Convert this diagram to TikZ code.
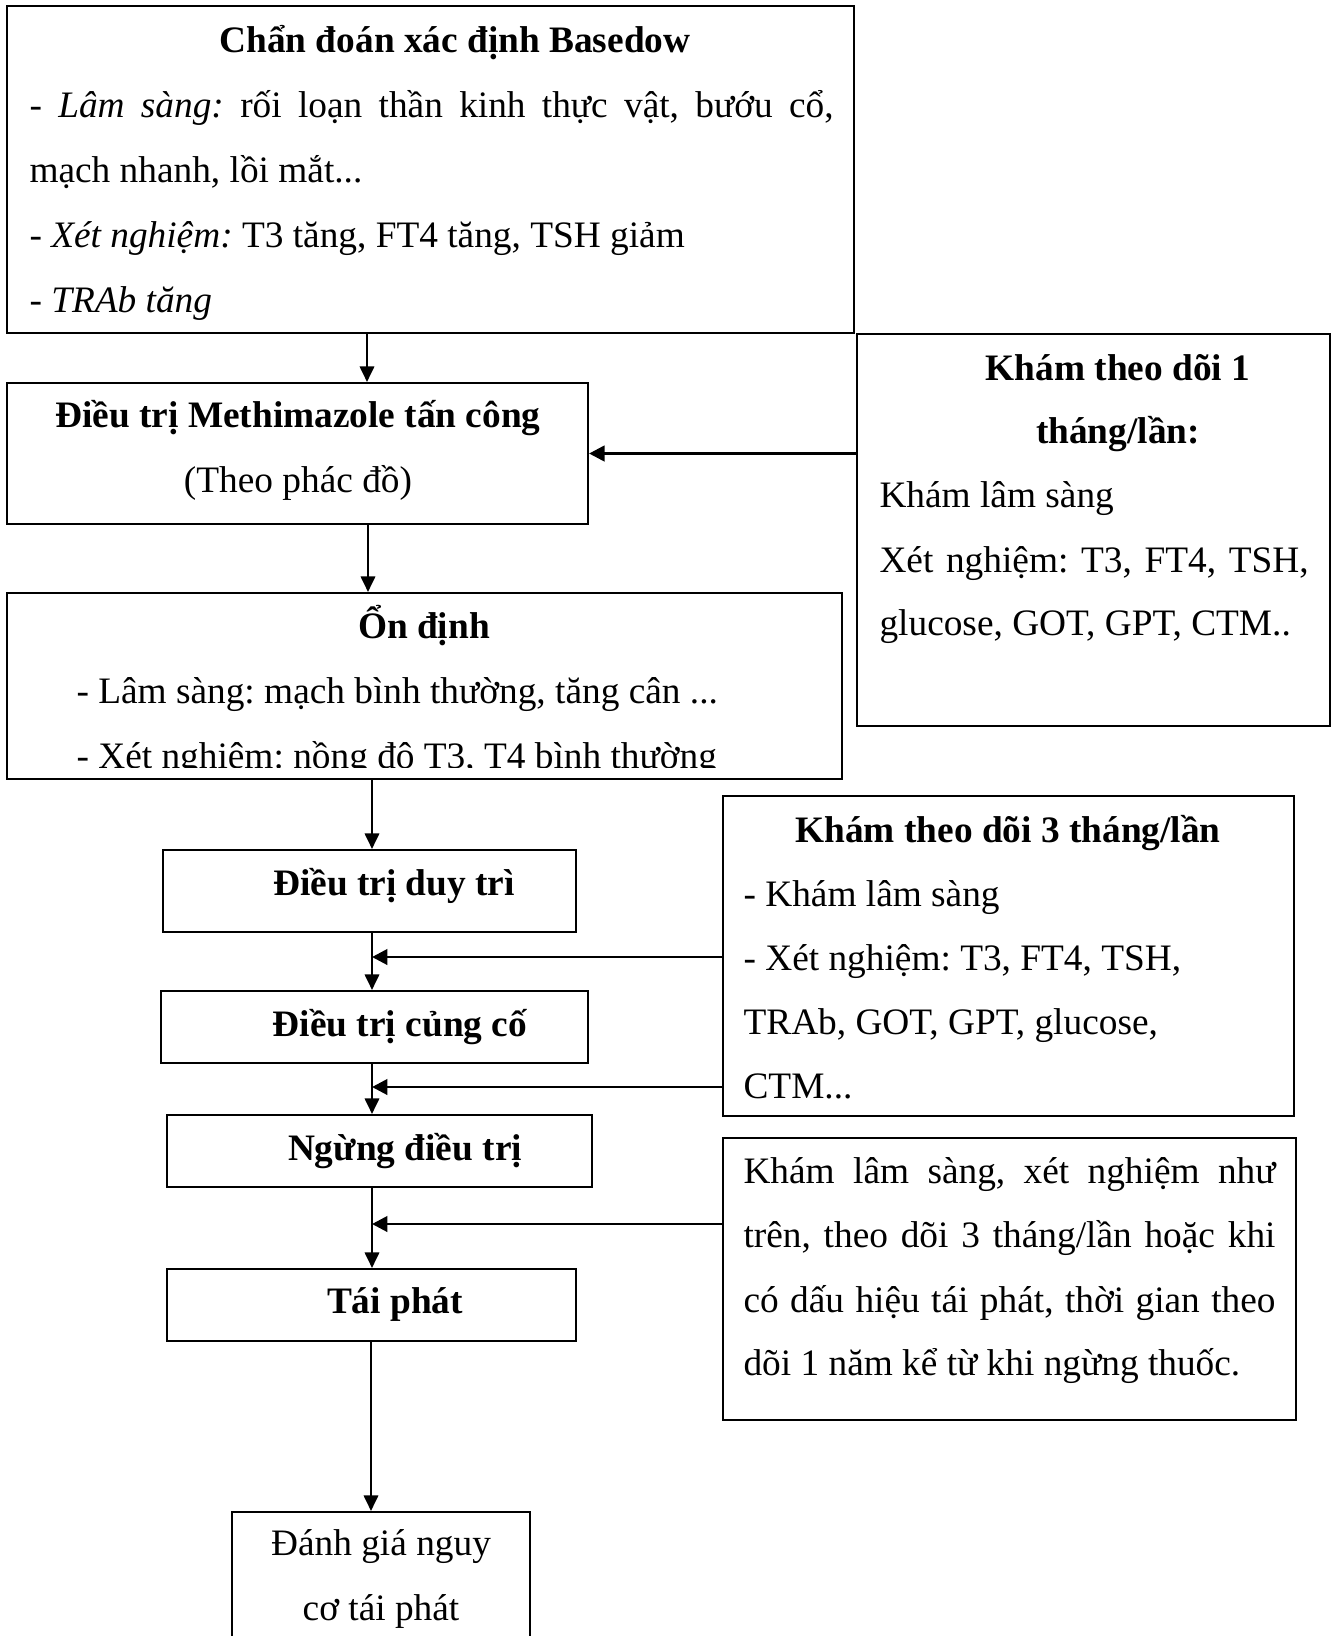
\documentclass[tikz,border=0pt]{standalone}
\usepackage{fontspec}
\setmainfont{Liberation Serif}
\usetikzlibrary{arrows.meta,fit}
\frenchspacing
\begin{document}
\frenchspacing
\begin{tikzpicture}[x=0.375pt,y=-0.375pt,
  box/.style={draw=black,line width=0.8pt,inner sep=0pt},
  txt/.style={inner sep=0pt,font=\fontsize{14}{24}\selectfont\frenchspacing},
  btxt/.style={txt,font=\fontsize{14}{24}\selectfont\bfseries\frenchspacing},
  arr/.style={line width=0.8pt,-{Triangle[length=5.8pt,width=5.4pt]}},
  sarr/.style={line width=1.1pt,-{Triangle[length=5.8pt,width=5.8pt]}}]
\useasboundingbox (0,0) rectangle (1334,1636);
\clip (0,0) rectangle (1334,1636);
% boxes
\node[box,fit={(7,6) (854,333)}] (b1) {};
\node[box,fit={(7,383) (588,524)}] (b2) {};
\node[box,fit={(7,593) (842,779)}] (b3) {};
\node[box,fit={(163,850) (576,932)}] (b4) {};
\node[box,fit={(161,991) (588,1063)}] (b5) {};
\node[box,fit={(167,1115) (592,1187)}] (b6) {};
\node[box,fit={(167,1269) (576,1341)}] (b7) {};
\node[box,fit={(232,1512) (530,1700)}] (b8) {};
\node[box,fit={(857,334) (1330,726)}] (rb1) {};
\node[box,fit={(723,796) (1294,1116)}] (rb2) {};
\node[box,fit={(723,1138) (1296,1420)}] (rb3) {};
% texts box 1
\node[btxt,anchor=base] (t1a) at (455,52) {Chẩn đoán xác định Basedow};
\node[txt,anchor=base west] (t1b) at (29,117) {\makebox[301.5pt][s]{- \textit{Lâm sàng:} rối loạn thần kinh thực vật, bướu cổ,}};
\node[txt,anchor=base west] (t1c) at (29,182) {mạch nhanh, lồi mắt...};
\node[txt,anchor=base west] (t1d) at (29,247) {- \textit{Xét nghiệm:} T3 tăng, FT4 tăng, TSH giảm};
\node[txt,anchor=base west] (t1e) at (29,312) {\textit{- TRAb tăng}};
% box 2
\node[btxt,anchor=base] (t2a) at (298,427) {Điều trị Methimazole tấn công};
\node[txt,anchor=base] (t2b) at (298,492) {(Theo phác đồ)};
% box 3
\node[btxt,anchor=base] (t3a) at (424,638) {Ổn định};
\node[txt,anchor=base west] (t3b) at (76,703) {- Lâm sàng: mạch bình thường, tăng cân ...};
\begin{scope}
\clip (0,593) rectangle (842,767);
\node[txt,anchor=base west] (t3c) at (76,768) {- Xét nghiệm: nồng độ T3, T4 bình thường};
\end{scope}
% small boxes
\node[btxt,anchor=base] (t4) at (394,895) {Điều trị duy trì};
\node[btxt,anchor=base] (t5) at (400,1036) {Điều trị củng cố};
\node[btxt,anchor=base] (t6) at (405,1160) {Ngừng điều trị};
\node[btxt,anchor=base] (t7) at (395,1313) {Tái phát};
\node[txt,anchor=base] (t8a) at (381,1555) {Đánh giá nguy};
\node[txt,anchor=base] (t8b) at (381,1620) {cơ tái phát};
% right box 1
\node[btxt,anchor=base] (r1a) at (1118,380) {Khám theo dõi 1};
\node[btxt,anchor=base] (r1b) at (1118,443) {tháng/lần:};
\node[txt,anchor=base west] (r1c) at (879,507) {Khám lâm sàng};
\node[txt,anchor=base west] (r1d) at (879,572) {\makebox[160.9pt][s]{Xét nghiệm: T3, FT4, TSH,}};
\node[txt,anchor=base west] (r1e) at (879,635) {glucose, GOT, GPT, CTM..};
% right box 2
\node[btxt,anchor=base] (r2a) at (1008,842) {Khám theo dõi 3 tháng/lần};
\node[txt,anchor=base west] (r2b) at (743,906) {- Khám lâm sàng};
\node[txt,anchor=base west] (r2c) at (743,970) {- Xét nghiệm: T3, FT4, TSH,};
\node[txt,anchor=base west] (r2d) at (743,1034) {TRAb, GOT, GPT, glucose,};
\node[txt,anchor=base west] (r2e) at (743,1098) {CTM...};
% right box 3
\node[txt,anchor=base west] (r3a) at (743,1183) {\makebox[199.5pt][s]{Khám lâm sàng, xét nghiệm như}};
\node[txt,anchor=base west] (r3b) at (743,1247) {\makebox[199.5pt][s]{trên, theo dõi 3 tháng/lần hoặc khi}};
\node[txt,anchor=base west] (r3c) at (743,1312) {\makebox[199.5pt][s]{có dấu hiệu tái phát, thời gian theo}};
\node[txt,anchor=base west] (r3d) at (743,1375) {dõi 1 năm kể từ khi ngừng thuốc.};
% connectors
\coordinate (c12) at (367,0);
\coordinate (c23) at (368,0);
\coordinate (c34) at (372,0);
\coordinate (c78) at (371,0);
\coordinate (j1) at (372,957);
\coordinate (j2) at (372,1087);
\coordinate (j3) at (372,1224);
\draw[arr] (b1.south -| c12) -- (b2.north -| c12);
\draw[arr] (b2.south -| c23) -- (b3.north -| c23);
\draw[arr] (b3.south -| c34) -- (b4.north -| c34);
\draw[arr] (b4.south -| j1) -- (b5.north -| j1);
\draw[arr] (b5.south -| j2) -- (b6.north -| j2);
\draw[arr] (b6.south -| j3) -- (b7.north -| j3);
\draw[arr] (b7.south -| c78) -- (b8.north -| c78);
\draw[sarr] (rb1.west |- b2.east) -- (b2.east);
\draw[sarr] (rb2.west |- j1) -- (j1);
\draw[sarr] (rb2.west |- j2) -- (j2);
\draw[sarr] (rb3.west |- j3) -- (j3);
\end{tikzpicture}
\end{document}
